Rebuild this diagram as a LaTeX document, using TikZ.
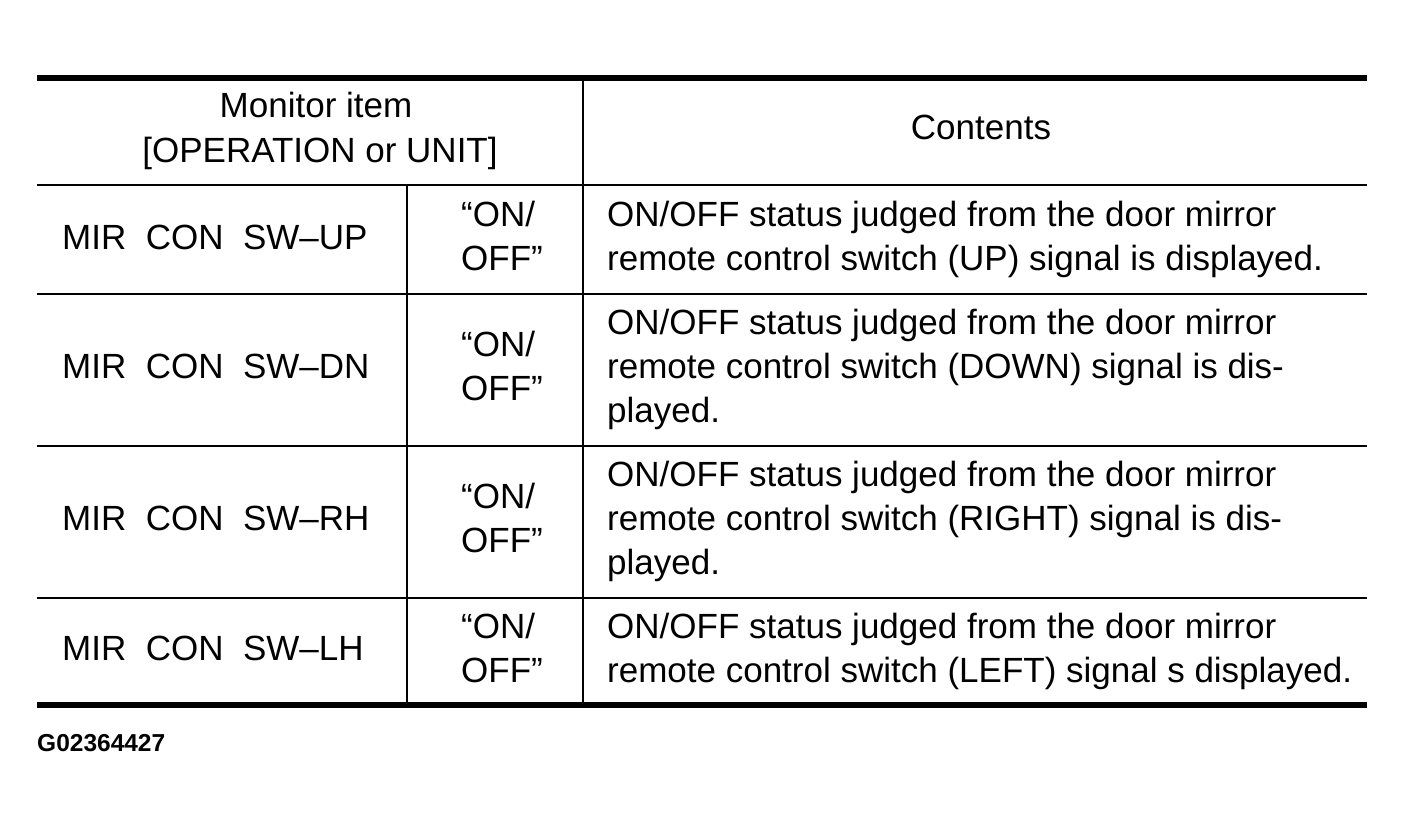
\documentclass[tikz,border=0pt]{standalone}
\usepackage{fontspec}
\setmainfont{Liberation Sans}
\newfontfamily\tf{Liberation Sans}
\begin{document}
\begin{tikzpicture}[x=1pt,y=-1pt,
  txt/.style={anchor=base west,inner sep=0pt,font=\tf\fontsize{35}{44}\selectfont},
  ctxt/.style={anchor=base,inner sep=0pt,font=\tf\fontsize{35}{44}\selectfont},
  thickrule/.style={line width=5.5pt},
  thinrule/.style={line width=2.6pt}]
\useasboundingbox[fill=white] (0,0) rectangle (1404,828);
% rules
\coordinate (TL) at (37,78); \coordinate (TR) at (1367,78);
\coordinate (HL) at (37,185); \coordinate (HR) at (1367,185);
\coordinate (R1L) at (37,294); \coordinate (R1R) at (1367,294);
\coordinate (R2L) at (37,446); \coordinate (R2R) at (1367,446);
\coordinate (R3L) at (37,598); \coordinate (R3R) at (1367,598);
\coordinate (BL) at (37,705); \coordinate (BR) at (1367,705);
\coordinate (V1T) at (407,185); \coordinate (V1B) at (407,705);
\coordinate (V2T) at (583,78); \coordinate (V2B) at (583,705);
\draw[thinrule] (HL) -- (HR);
\draw[thinrule] (R1L) -- (R1R);
\draw[thinrule] (R2L) -- (R2R);
\draw[thinrule] (R3L) -- (R3R);
\draw[thinrule] (V1T) -- (V1B);
\draw[thinrule] (V2T) -- (V2B);
\draw[thickrule] (TL) -- (TR);
\draw[thickrule] (BL) -- (BR);
% header
\node[ctxt] (h1) at (316,117) {Monitor item};
\node[ctxt] (h2) at (320,162) {[OPERATION or UNIT]};
\node[ctxt] (h3) at (981,139) {Contents};
% row 1
\node[txt] (m1) at (62,249) {MIR\ \ CON\ \ SW–UP};
\node[txt] (o1a) at (461,226) {“ON/};
\node[txt] (o1b) at (461,270) {OFF”};
\node[txt] (c1a) at (607,226) {ON/OFF status judged from the door mirror};
\node[txt] (c1b) at (607,270) {remote control switch (UP) signal is displayed.};
% row 2
\node[txt] (m2) at (62,378) {MIR\ \ CON\ \ SW–DN};
\node[txt] (o2a) at (461,356) {“ON/};
\node[txt] (o2b) at (461,400) {OFF”};
\node[txt] (c2a) at (607,334) {ON/OFF status judged from the door mirror};
\node[txt] (c2b) at (607,378) {remote control switch (DOWN) signal is dis-};
\node[txt] (c2c) at (607,422) {played.};
% row 3
\node[txt] (m3) at (62,530) {MIR\ \ CON\ \ SW–RH};
\node[txt] (o3a) at (461,508) {“ON/};
\node[txt] (o3b) at (461,552) {OFF”};
\node[txt] (c3a) at (607,486) {ON/OFF status judged from the door mirror};
\node[txt] (c3b) at (607,530) {remote control switch (RIGHT) signal is dis-};
\node[txt] (c3c) at (607,574) {played.};
% row 4
\node[txt] (m4) at (62,660) {MIR\ \ CON\ \ SW–LH};
\node[txt] (o4a) at (461,638) {“ON/};
\node[txt] (o4b) at (461,682) {OFF”};
\node[txt] (c4a) at (607,638) {ON/OFF status judged from the door mirror};
\node[txt] (c4b) at (607,682) {remote control switch (LEFT) signal s displayed.};
% figure code
\node[anchor=base west,inner sep=0pt,font=\tf\bfseries\fontsize{24.5}{30}\selectfont] (code) at (37,751) {G02364427};
\end{tikzpicture}
\end{document}
